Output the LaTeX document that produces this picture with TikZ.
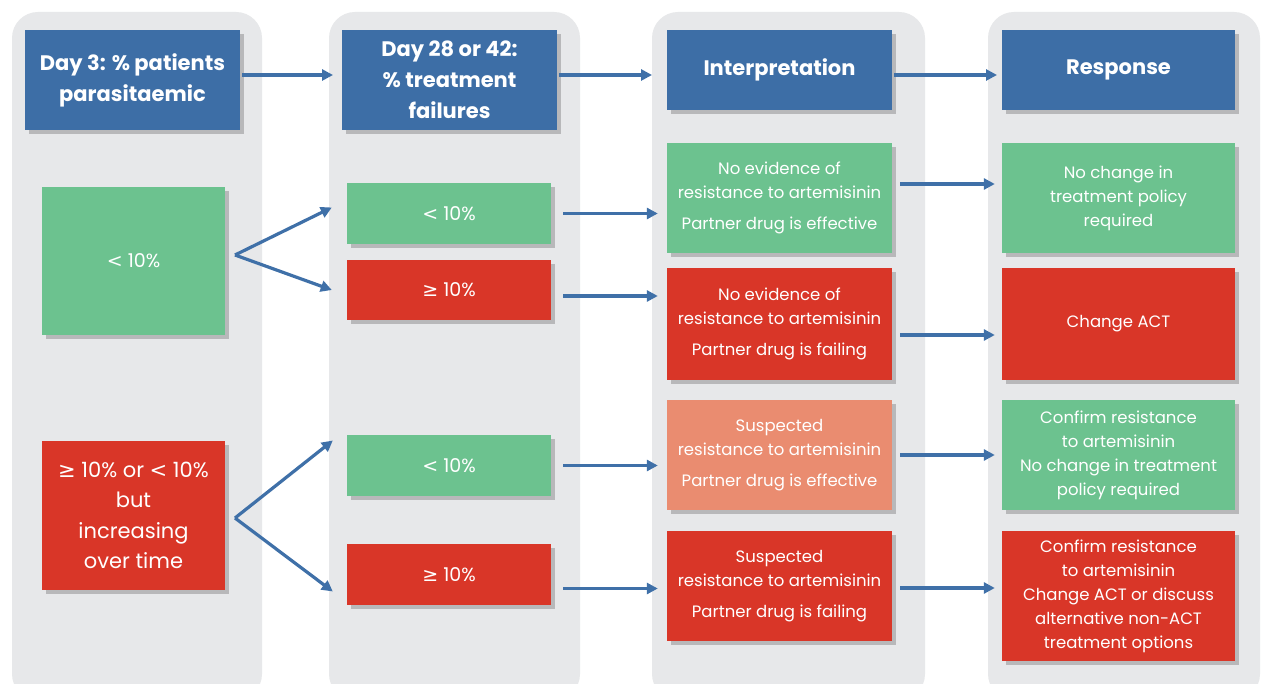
\documentclass[tikz,border=0pt]{standalone}
\usepackage{fontspec}
\setmainfont{Poppins}
\newfontfamily\symf{DejaVu Sans}
\usetikzlibrary{shadows,arrows.meta}
\definecolor{hblue}{HTML}{3D6EA6}
\definecolor{gbox}{HTML}{6CC28F}
\definecolor{rbox}{HTML}{D93628}
\definecolor{sbox}{HTML}{EA8C70}
\definecolor{pgray}{HTML}{E7E8EA}
\definecolor{ablue}{HTML}{3F70A8}
\newcommand{\gq}{{\symf\char"2265}}
\newcommand{\lt}{{\symf<}}
\tikzset{
  panel/.style={fill=pgray, rounded corners=26},
  basebox/.style={draw=none, text=white, align=center, inner sep=2pt,
    drop shadow={shadow xshift=4pt, shadow yshift=-4pt, opacity=0.3, fill=black!70}},
  hdr/.style={basebox, fill=hblue, font=\bfseries\fontsize{21}{31}\selectfont},
  gbx/.style={basebox, fill=gbox, font=\fontsize{16.5}{24}\selectfont},
  rbx/.style={basebox, fill=rbox, font=\fontsize{16.5}{24}\selectfont},
  sbx/.style={basebox, fill=sbox, font=\fontsize{16.5}{24}\selectfont},
  conn/.style={draw=ablue, line width=3.2pt, -{Triangle[length=11pt,width=11pt]}},
}
\begin{document}
\begin{tikzpicture}[x=1pt,y=-1pt]
\useasboundingbox (0,0) rectangle (1263,684);
\fill[white] (0,0) rectangle (1263,684);
% panels
\fill[panel] (12,12) rectangle (262,700);
\fill[panel] (329,12) rectangle (580,700);
\fill[panel] (652,12) rectangle (925,700);
\fill[panel] (988,12) rectangle (1260,700);
% headers
\node[hdr, minimum width=215, minimum height=100] (h1) at (132.5,80) {Day 3: \% patients\\parasitaemic};
\node[hdr, minimum width=215, minimum height=100] (h2) at (449.5,80) {Day 28 or 42:\\\% treatment\\failures};
\node[hdr, minimum width=225, minimum height=80] (h3) at (779.5,70) {Interpretation};
\node[hdr, minimum width=233, minimum height=80] (h4) at (1118.5,70) {Response};
% column 1
\node[gbx, minimum width=183, minimum height=148, font=\fontsize{19}{30}\selectfont] (g1) at (133.5,261) {\lt{} 10\%};
\node[rbx, minimum width=183, minimum height=149, font=\fontsize{21}{30.5}\selectfont] (r1) at (133.5,515.5) {\gq{} 10\% or \lt{} 10\%\\but\\increasing\\over time};
% column 2
\node[gbx, minimum width=204, minimum height=61, font=\fontsize{19}{24}\selectfont] (a) at (449,213.5) {\lt{} 10\%};
\node[rbx, minimum width=204, minimum height=60, font=\fontsize{19}{24}\selectfont] (b) at (449,290) {\gq{} 10\%};
\node[gbx, minimum width=204, minimum height=61, font=\fontsize{19}{24}\selectfont] (c) at (449,465.5) {\lt{} 10\%};
\node[rbx, minimum width=204, minimum height=61, font=\fontsize{19}{24}\selectfont] (d) at (449,574.5) {\gq{} 10\%};
% column 3
\node[gbx, minimum width=225, minimum height=110] (e) at (779.5,198) {No evidence of\\resistance to artemisinin\\[7pt]Partner drug is effective};
\node[rbx, minimum width=225, minimum height=112] (f) at (779.5,324) {No evidence of\\resistance to artemisinin\\[7pt]Partner drug is failing};
\node[sbx, minimum width=225, minimum height=110] (g) at (779.5,455) {Suspected\\resistance to artemisinin\\[7pt]Partner drug is effective};
\node[rbx, minimum width=225, minimum height=110] (h) at (779.5,586) {Suspected\\resistance to artemisinin\\[7pt]Partner drug is failing};
% column 4
\node[gbx, minimum width=233, minimum height=110] (i) at (1118.5,198) {No change in\\treatment policy\\required};
\node[rbx, minimum width=233, minimum height=112] (j) at (1118.5,324) {Change ACT};
\node[gbx, minimum width=233, minimum height=110] (k) at (1118.5,455) {Confirm resistance\\to artemisinin\\No change in treatment\\policy required};
\node[rbx, minimum width=233, minimum height=130] (l) at (1118.5,596) {Confirm resistance\\to artemisinin\\Change ACT or discuss\\alternative non-ACT\\treatment options};
% connector coordinates
\coordinate (s1) at (235,255);
\coordinate (s2) at (235,518);
% header arrows
\draw[conn] ([xshift=2pt]h1.east|-0,75) -- (333,75);
\draw[conn] ([xshift=2pt]h2.east|-0,75) -- (652,75);
\draw[conn] ([xshift=2pt]h3.east|-0,75) -- (997,75);
% branching arrows
\draw[conn] (s1) -- ([xshift=-15pt,yshift=6pt]a.west);
\draw[conn] (s1) -- ([xshift=-15pt]b.west);
\draw[conn] (s2) -- ([xshift=-14pt,yshift=25pt]c.west);
\draw[conn] (s2) -- ([xshift=-14pt,yshift=-17pt]d.west);
% column 2 -> 3
\draw[conn] ([xshift=12pt]a.east) -- ([xshift=-9pt]e.west|-a.east);
\draw[conn] ([xshift=12pt,yshift=-6pt]b.east) -- ([xshift=-9pt,yshift=-6pt]f.west|-b.east);
\draw[conn] ([xshift=12pt]c.east) -- ([xshift=-9pt]g.west|-c.east);
\draw[conn] ([xshift=12pt,yshift=-14pt]d.east) -- ([xshift=-9pt,yshift=-14pt]h.west|-d.east);
% column 3 -> 4
\draw[conn] ([xshift=8pt,yshift=14pt]e.east) -- ([xshift=-7pt,yshift=14pt]i.west);
\draw[conn] ([xshift=8pt,yshift=-11pt]f.east) -- ([xshift=-7pt,yshift=-11pt]j.west);
\draw[conn] ([xshift=8pt]g.east) -- ([xshift=-7pt]k.west);
\draw[conn] ([xshift=8pt,yshift=-2pt]h.east) -- ([xshift=-7pt,yshift=-2pt]h.east-|l.west);
\end{tikzpicture}
\end{document}
